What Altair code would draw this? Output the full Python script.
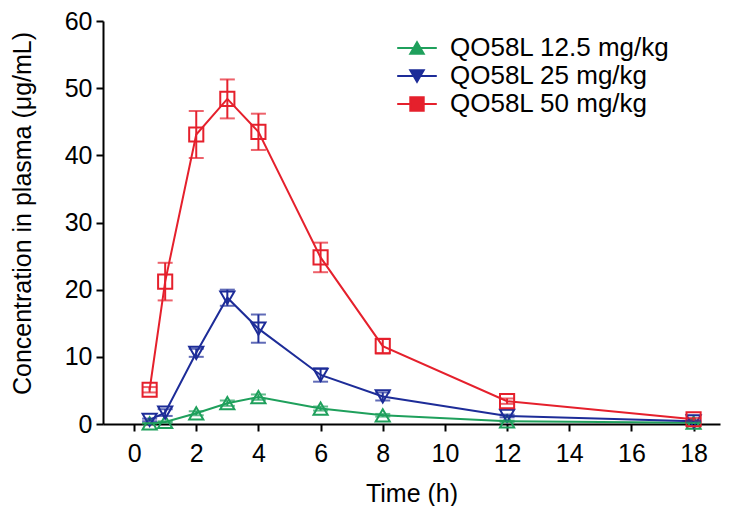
import altair as alt
import pandas as pd

times = [0.5, 1, 2, 3, 4, 6, 8, 12, 18]
series = ["QO58L 12.5 mg/kg", "QO58L 25 mg/kg", "QO58L 50 mg/kg"]
doses = ["12.5", "25", "50"]
low_mean = [0.1, 0.3, 1.6, 3.1, 4.0, 2.3, 1.3, 0.4, 0.2]
low_sd = [0.05, 0.1, 0.3, 0.4, 0.4, 0.3, 0.2, 0.1, 0.05]
mid_mean = [0.6, 1.7, 10.6, 18.8, 14.2, 7.3, 4.1, 1.2, 0.4]
mid_sd = [0.2, 0.5, 0.6, 1.2, 2.1, 1.0, 0.6, 0.2, 0.1]
high_mean = [5.1, 21.2, 43.1, 48.4, 43.5, 24.8, 11.6, 3.4, 0.7]
high_sd = [0.4, 2.8, 3.5, 2.9, 2.7, 2.2, 1.1, 0.4, 0.2]

colors = ["#1fa05c", "#1d2c98", "#e5202c"]
shapes = ["triangle-up", "triangle-down", "square"]

rows = []
for name, dose, means, sds in zip(series, doses, [low_mean, mid_mean, high_mean],
                                  [low_sd, mid_sd, high_sd]):
    for t, m, s in zip(times, means, sds):
        rows.append({"Series": name, "Dose": dose, "t": t, "c": m, "lo": m - s, "hi": m + s})
df = pd.DataFrame(rows)

FONT = "Liberation Sans"
x_scale = alt.Scale(domain=[-1, 18.85], nice=False, zero=False)
y_scale = alt.Scale(domain=[0, 60], nice=False)
stroke_scale = alt.Scale(domain=series, range=colors)
col_scale = alt.Scale(domain=doses, range=colors)
shape_scale = alt.Scale(domain=doses, range=shapes)
YTITLE = "Concentration in plasma (μg/mL)"

x_axis = alt.Axis(values=list(range(0, 19, 2)), title="Time (h)", grid=False,
                  labelFontSize=25, titleFontSize=25, tickSize=7, labelPadding=10,
                  titleY=77, titleBaseline="alphabetic", labelFlush=False)
y_axis = alt.Axis(values=list(range(0, 61, 10)), title=YTITLE,
                  grid=False, labelFontSize=25, titleFontSize=25, tickSize=7, labelPadding=4,
                  titleX=-68, titleY=192, labelFlush=False)

LEG_X = 301
LEG_Y = 14

base = alt.Chart(df)

lines = base.mark_line(strokeWidth=2).encode(
    x=alt.X("t:Q", scale=x_scale, axis=x_axis),
    y=alt.Y("c:Q", scale=y_scale, axis=y_axis),
    stroke=alt.Stroke("Series:N", scale=stroke_scale,
                      legend=alt.Legend(title=None, orient="none", legendX=LEG_X, legendY=LEG_Y,
                                        symbolType="M-2.8,0H2.8", symbolSize=200,
                                        symbolStrokeWidth=2,
                                        labelFontSize=26, labelFont=FONT, labelOffset=20,
                                        labelLimit=0, rowPadding=2, padding=0,
                                        labelColor="black")),
    order=alt.Order("t:Q"),
)

pt_legend = alt.Legend(title=None, orient="none", legendX=LEG_X, legendY=LEG_Y,
                       symbolSize=180, symbolStrokeWidth=2, symbolFillColor="transparent",
                       labelFontSize=26, labelFont=FONT, labelExpr="' '", labelLimit=0,
                       rowPadding=2, padding=0)

points = base.mark_point(filled=False, strokeWidth=2, size=200, opacity=1).encode(
    x=alt.X("t:Q", scale=x_scale),
    y=alt.Y("c:Q", scale=y_scale),
    color=alt.Color("Dose:N", scale=col_scale, legend=pt_legend),
    shape=alt.Shape("Dose:N", scale=shape_scale, legend=pt_legend),
)

errs = base.mark_errorbar(ticks={"size": 15, "thickness": 2}, thickness=2).encode(
    x=alt.X("t:Q", scale=x_scale),
    y=alt.Y("lo:Q", scale=y_scale, title=YTITLE),
    y2="hi:Q",
    color=alt.Color("Dose:N", scale=col_scale, legend=pt_legend),
)

chart = alt.layer(lines, points, errs).properties(
    width=617, height=403,
    autosize=alt.AutoSizeParams(type="none"),
    padding={"left": 95, "top": 13, "right": 1, "bottom": 82},
).configure(font=FONT).configure_view(stroke=None).configure_axis(
    domainColor="black", domainWidth=2, tickColor="black", tickWidth=2,
    labelColor="black", titleColor="black", labelFont=FONT, titleFont=FONT,
    titleFontWeight="normal",
)

chart.save("out.html", embed_options={"renderer": "svg", "actions": False})
